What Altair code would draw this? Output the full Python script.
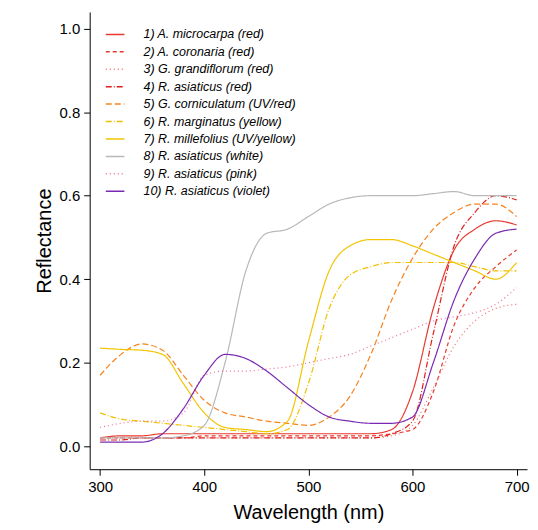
import altair as alt
import pandas as pd

names = ["1) A. microcarpa (red)", "2) A. coronaria (red)", "3) G. grandiflorum (red)",
         "4) R. asiaticus (red)", "5) G. corniculatum (UV/red)", "6) R. marginatus (yellow)",
         "7) R. millefolius (UV/yellow)", "8) R. asiaticus (white)", "9) R. asiaticus (pink)",
         "10) R. asiaticus (violet)"]
colors = ["#e8392e", "#e8392e", "#f06a6a", "#e0201c", "#f7821e", "#f0c000",
          "#f2c400", "#b8b8b8", "#ec6f95", "#7a2ab0"]
dashes = [[1, 0], [4, 3], [1, 3], [6, 2, 1, 2], [6, 3], [6, 2, 1, 2], [1, 0], [1, 0], [1, 3], [1, 0]]

wl = [300, 320, 340, 360, 380, 400, 420, 440, 460, 480, 500, 520, 540, 560, 580, 600, 620, 640, 660, 680, 700]
s1 = [0.02, 0.025, 0.025, 0.03, 0.03, 0.03, 0.03, 0.03, 0.03, 0.03, 0.03, 0.03, 0.03, 0.03, 0.04, 0.13, 0.33, 0.47, 0.52, 0.54, 0.53]
s2 = [0.02, 0.02, 0.02, 0.02, 0.02, 0.025, 0.025, 0.025, 0.025, 0.025, 0.025, 0.025, 0.025, 0.025, 0.03, 0.04, 0.13, 0.29, 0.38, 0.43, 0.47]
s3 = [0.02, 0.02, 0.02, 0.02, 0.02, 0.02, 0.02, 0.02, 0.02, 0.02, 0.02, 0.02, 0.02, 0.02, 0.025, 0.05, 0.14, 0.24, 0.30, 0.33, 0.34]
s4 = [0.015, 0.015, 0.02, 0.02, 0.02, 0.02, 0.02, 0.02, 0.02, 0.02, 0.02, 0.02, 0.02, 0.02, 0.03, 0.06, 0.27, 0.48, 0.56, 0.60, 0.59]
s5 = [0.17, 0.22, 0.245, 0.23, 0.17, 0.11, 0.08, 0.07, 0.06, 0.055, 0.05, 0.07, 0.12, 0.22, 0.35, 0.45, 0.52, 0.56, 0.58, 0.58, 0.55]
s6 = [0.08, 0.065, 0.06, 0.055, 0.05, 0.045, 0.04, 0.035, 0.03, 0.04, 0.15, 0.33, 0.41, 0.43, 0.44, 0.44, 0.44, 0.44, 0.43, 0.42, 0.42]
s7 = [0.235, 0.232, 0.23, 0.22, 0.15, 0.08, 0.045, 0.04, 0.035, 0.06, 0.25, 0.42, 0.48, 0.495, 0.495, 0.48, 0.46, 0.44, 0.42, 0.40, 0.44]
s8 = [0.02, 0.02, 0.02, 0.02, 0.025, 0.05, 0.20, 0.42, 0.51, 0.52, 0.55, 0.58, 0.595, 0.60, 0.60, 0.60, 0.605, 0.61, 0.60, 0.60, 0.60]
s9 = [0.045, 0.055, 0.06, 0.06, 0.08, 0.17, 0.18, 0.18, 0.185, 0.19, 0.20, 0.21, 0.22, 0.24, 0.26, 0.28, 0.30, 0.31, 0.32, 0.34, 0.38]
s10 = [0.01, 0.01, 0.01, 0.03, 0.09, 0.17, 0.22, 0.21, 0.18, 0.14, 0.10, 0.07, 0.06, 0.055, 0.055, 0.07, 0.20, 0.35, 0.45, 0.51, 0.52]
series = [s1, s2, s3, s4, s5, s6, s7, s8, s9, s10]

rows = []
for n, s in zip(names, series):
    for w, v in zip(wl, s):
        rows.append({"Wavelength": w, "Reflectance": v, "Series": n})
df = pd.DataFrame(rows)

font = "Liberation Sans"
chart = alt.Chart(df).mark_line(strokeWidth=1.2, interpolate="monotone").encode(
    x=alt.X("Wavelength:Q", title="Wavelength (nm)",
            scale=alt.Scale(domain=[290, 710], nice=False),
            axis=alt.Axis(values=[300, 400, 500, 600, 700], grid=False, titlePadding=8)),
    y=alt.Y("Reflectance:Q", title="Reflectance",
            scale=alt.Scale(domain=[-0.055, 1.04], nice=False),
            axis=alt.Axis(values=[0, 0.2, 0.4, 0.6, 0.8, 1.0], format=".1f", grid=False)),
    color=alt.Color("Series:N", scale=alt.Scale(domain=names, range=colors),
                    legend=alt.Legend(title=None, orient="none", legendX=15, legendY=12, symbolType="stroke",
                                      labelFontStyle="italic", labelFontSize=12.5, labelFont=font,
                                      symbolSize=350, symbolStrokeWidth=1.5, rowPadding=0.5,
                                      labelLimit=300, labelOffset=18)),
    strokeDash=alt.StrokeDash("Series:N", scale=alt.Scale(domain=names, range=dashes), legend=alt.Legend(title=None)),
).properties(
    width=439, height=459, padding={"left": 27, "top": 3, "right": 0, "bottom": 0}
).configure_view(stroke=None).configure_axis(
    labelFont=font, titleFont=font, labelFontSize=15, titleFontSize=20, titleFontWeight="normal",
    labelColor="black", titleColor="black", domainColor="black", tickColor="black",
    tickSize=6, labelPadding=4
)

chart.save("out.html", embed_options={"renderer": "svg", "actions": False})
